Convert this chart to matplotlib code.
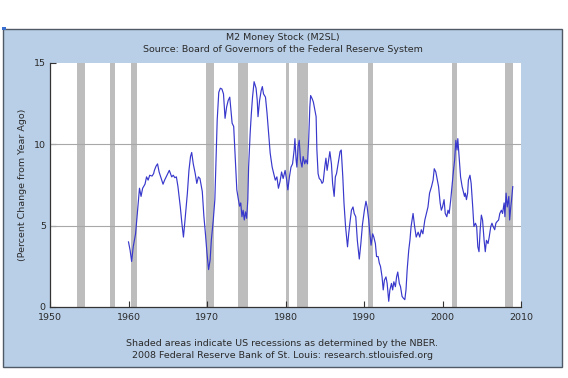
import matplotlib
matplotlib.use('Agg')
import matplotlib.pyplot as plt
from matplotlib.patches import Rectangle

# M2 money stock, percent change from a year ago
years = [1960.0, 1960.2, 1960.4, 1960.6, 1960.9, 1961.2, 1961.4, 1961.6, 1961.8, 1962.1,
         1962.3, 1962.5, 1962.7, 1963.0, 1963.2, 1963.3, 1963.5, 1963.7, 1963.9, 1964.1,
         1964.4, 1964.6, 1964.8, 1965.0, 1965.2, 1965.5, 1965.7, 1965.9, 1966.1, 1966.3,
         1966.6, 1966.8, 1967.0, 1967.2, 1967.5, 1967.7, 1967.9, 1968.05, 1968.25, 1968.5,
         1968.7, 1968.9, 1969.1, 1969.4, 1969.6, 1969.8, 1970.0, 1970.2, 1970.4, 1970.55,
         1970.8, 1971.0, 1971.15, 1971.3, 1971.5, 1971.7, 1971.9, 1972.1, 1972.3, 1972.5,
         1972.7, 1972.9, 1973.05, 1973.2, 1973.4, 1973.5, 1973.65, 1973.8, 1974.0, 1974.15,
         1974.3, 1974.45, 1974.6, 1974.75, 1974.9, 1975.05, 1975.2, 1975.3, 1975.5, 1975.65,
         1975.8, 1976.0, 1976.25, 1976.4, 1976.5, 1976.7, 1976.9, 1977.05, 1977.2, 1977.45,
         1977.65, 1977.85, 1978.05, 1978.3, 1978.5, 1978.7, 1978.9, 1979.1, 1979.3, 1979.5,
         1979.7, 1979.95, 1980.15, 1980.3, 1980.5, 1980.7, 1980.9, 1981.1, 1981.2, 1981.35,
         1981.45, 1981.6, 1981.75, 1981.9, 1982.1, 1982.25, 1982.45, 1982.6, 1982.8, 1982.95,
         1983.1, 1983.2, 1983.4, 1983.55, 1983.7, 1983.9, 1984.0, 1984.15, 1984.3, 1984.5,
         1984.65, 1984.8, 1985.0, 1985.15, 1985.3, 1985.5, 1985.65, 1985.85, 1986.0, 1986.2,
         1986.35, 1986.5, 1986.7, 1986.95, 1987.1, 1987.3, 1987.45, 1987.65, 1987.9, 1988.05,
         1988.2, 1988.4, 1988.6, 1988.75, 1988.95, 1989.15, 1989.4, 1989.6, 1989.8, 1990.05,
         1990.25, 1990.4, 1990.6, 1990.75, 1990.9, 1991.1, 1991.25, 1991.45, 1991.6, 1991.8,
         1991.95, 1992.1, 1992.3, 1992.45, 1992.6, 1992.8, 1992.95, 1993.15, 1993.3, 1993.5,
         1993.65, 1993.8, 1994.0, 1994.15, 1994.3, 1994.5, 1994.65, 1994.85, 1995.0, 1995.2,
         1995.35, 1995.5, 1995.7, 1995.85, 1996.0, 1996.25, 1996.45, 1996.65, 1996.9, 1997.1,
         1997.3, 1997.5, 1997.75, 1997.95, 1998.15, 1998.35, 1998.6, 1998.8, 1998.95, 1999.15,
         1999.35, 1999.5, 1999.7, 1999.85, 2000.0, 2000.2, 2000.35, 2000.55, 2000.7, 2000.85,
         2001.05, 2001.2, 2001.4, 2001.55, 2001.7, 2001.85, 2001.95, 2002.15, 2002.3, 2002.5,
         2002.6, 2002.8, 2002.9, 2003.05, 2003.2, 2003.3, 2003.5, 2003.65, 2003.85, 2004.0,
         2004.2, 2004.35, 2004.5, 2004.65, 2004.8, 2004.95, 2005.1, 2005.3, 2005.45, 2005.6,
         2005.8, 2005.95, 2006.15, 2006.3, 2006.45, 2006.65, 2006.8, 2006.95, 2007.15, 2007.3,
         2007.5, 2007.65, 2007.85, 2007.95, 2008.1, 2008.25, 2008.45, 2008.55, 2008.7, 2008.8,
         2008.95]
pct_change = [4.0, 3.5, 2.8, 3.7, 4.5, 6.2, 7.3, 6.8, 7.3, 7.55,
              8.0, 7.8, 8.1, 8.05, 8.2, 8.4, 8.65, 8.8, 8.3, 8.0,
              7.55, 7.8, 8.0, 8.2, 8.4, 8.0, 8.1, 7.95, 8.0, 7.4,
              6.15, 5.15, 4.3, 5.35, 7.0, 8.4, 9.25, 9.5, 8.8, 8.2,
              7.6, 8.0, 7.9, 7.1, 5.6, 4.5, 3.3, 2.3, 2.9, 4.1,
              5.35, 6.6, 9.0, 11.5, 13.2, 13.45, 13.4, 13.1, 11.6, 12.3,
              12.7, 12.9, 12.1, 11.3, 11.1, 10.1, 8.6, 7.2, 6.6, 6.2,
              6.4, 5.55, 5.95, 5.35, 5.85, 5.45, 6.6, 8.6, 10.7, 11.9,
              12.9, 13.85, 13.45, 12.7, 11.7, 12.7, 13.3, 13.55, 13.1, 12.9,
              11.9, 10.7, 9.45, 8.6, 8.2, 7.8, 8.0, 7.3, 7.7, 8.3,
              7.9, 8.4, 7.8, 7.2, 8.0, 8.6, 8.8, 9.65, 10.35, 9.05,
              8.6, 9.85, 10.25, 9.05, 8.6, 9.25, 8.8, 9.05, 8.8, 10.25,
              12.3, 13.0, 12.8, 12.6, 12.2, 11.7, 9.65, 8.2, 7.9, 7.8,
              7.6, 7.7, 8.6, 9.15, 8.4, 9.05, 9.55, 8.8, 7.6, 6.8,
              8.0, 8.2, 8.8, 9.55, 9.65, 8.0, 6.4, 4.95, 3.7, 4.5,
              5.15, 5.95, 6.15, 5.75, 5.55, 4.1, 2.95, 3.9, 5.05, 5.95,
              6.5, 6.15, 5.35, 4.5, 3.8, 4.5, 4.3, 3.9, 3.1, 3.1,
              2.7, 2.5, 1.85, 1.05, 1.65, 1.85, 1.45, 0.35, 1.05, 1.45,
              1.05, 1.55, 1.25, 1.85, 2.15, 1.45, 1.25, 0.65, 0.55, 0.45,
              1.05, 2.3, 3.5, 4.1, 4.95, 5.75, 4.95, 4.3, 4.6, 4.3,
              4.75, 4.5, 5.35, 5.75, 6.15, 7.0, 7.4, 7.8, 8.5, 8.3,
              7.8, 7.4, 6.4, 5.95, 6.15, 6.6, 5.75, 5.55, 5.95, 5.75,
              6.6, 7.4, 8.4, 9.05, 10.25, 9.65, 10.35, 9.05, 8.0, 7.4,
              7.2, 6.8, 7.0, 6.6, 7.0, 7.8, 8.1, 7.6, 6.15, 4.95,
              5.15, 4.95, 3.7, 3.4, 4.75, 5.65, 5.35, 4.1, 3.4, 4.1,
              3.9, 4.3, 4.95, 5.15, 4.95, 4.75, 5.15, 5.25, 5.35, 5.75,
              5.95, 5.75, 6.4, 5.55, 7.0, 6.15, 6.8, 5.35, 6.15, 6.6,
              7.4]

# NBER recessions (start, end) as decimal years
recession_start = [1953.5, 1957.6, 1960.3, 1969.9, 1973.9, 1980.0, 1981.5, 1990.5, 2001.2, 2007.9]
recession_end = [1954.4, 1958.3, 1961.1, 1970.9, 1975.2, 1980.5, 1982.9, 1991.2, 2001.9, 2009.0]

x_ticks = [1950, 1960, 1970, 1980, 1990, 2000, 2010]
y_ticks = [0, 5, 10, 15]

panel_color = '#b9cfe7'
text_color = '#2a2a2a'

fig = plt.figure(figsize=(5.68, 3.78), dpi=100)
fig.patch.set_facecolor('white')

# light blue panel behind everything, with a thin dark border
panel = Rectangle((3 / 568, 11 / 378), 559 / 568, 338 / 378, transform=fig.transFigure,
                  facecolor=panel_color, edgecolor='#505a66', linewidth=1.0, zorder=-2)
fig.patches.append(panel)
# small blue mark at the top left corner
fig.patches.append(Rectangle((2 / 568, 348 / 378), 4 / 568, 3 / 378, transform=fig.transFigure,
                             facecolor='#3a6fd0', edgecolor='none', zorder=-1))

ax = fig.add_axes([50 / 568, 71 / 378, 471 / 568, 244 / 378])
ax.set_zorder(1)
ax.set_facecolor('white')

for start, end in zip(recession_start, recession_end):
    ax.axvspan(start, end, color='#bdbdbd', linewidth=0, zorder=1)

for level in [5, 10]:
    ax.axhline(level, color='#a8a8a8', linewidth=0.8, zorder=2)

ax.plot(years, pct_change, color='#3838cc', linewidth=0.85, zorder=3)

ax.set_xlim(1950, 2010)
ax.set_ylim(0, 15)
ax.set_xticks(x_ticks)
ax.set_yticks(y_ticks)
ax.tick_params(direction='in', length=4, width=0.8, colors='#333333',
               labelsize=6.8, labelcolor=text_color)
ax.tick_params(axis='x', pad=4)
ax.tick_params(axis='y', pad=3)
for side in ['top', 'right']:
    ax.spines[side].set_visible(False)
for side in ['left', 'bottom']:
    ax.spines[side].set_color('#333333')
    ax.spines[side].set_linewidth(0.9)

ax.set_ylabel('(Percent Change from Year Ago)', fontsize=6.8, color=text_color, labelpad=5)

# titles and footnotes
fig.text(282.5 / 568, 1 - 37 / 378, 'M2 Money Stock (M2SL)', ha='center', va='center',
         fontsize=6.8, color=text_color)
fig.text(282.5 / 568, 1 - 49.5 / 378, 'Source: Board of Governors of the Federal Reserve System',
         ha='center', va='center', fontsize=6.8, color=text_color)
fig.text(282.5 / 568, 1 - 343 / 378, 'Shaded areas indicate US recessions as determined by the NBER.',
         ha='center', va='center', fontsize=6.8, color=text_color)
fig.text(282.5 / 568, 1 - 356 / 378, '2008 Federal Reserve Bank of St. Louis: research.stlouisfed.org',
         ha='center', va='center', fontsize=6.8, color=text_color)

plt.savefig('out.png', dpi=100)
